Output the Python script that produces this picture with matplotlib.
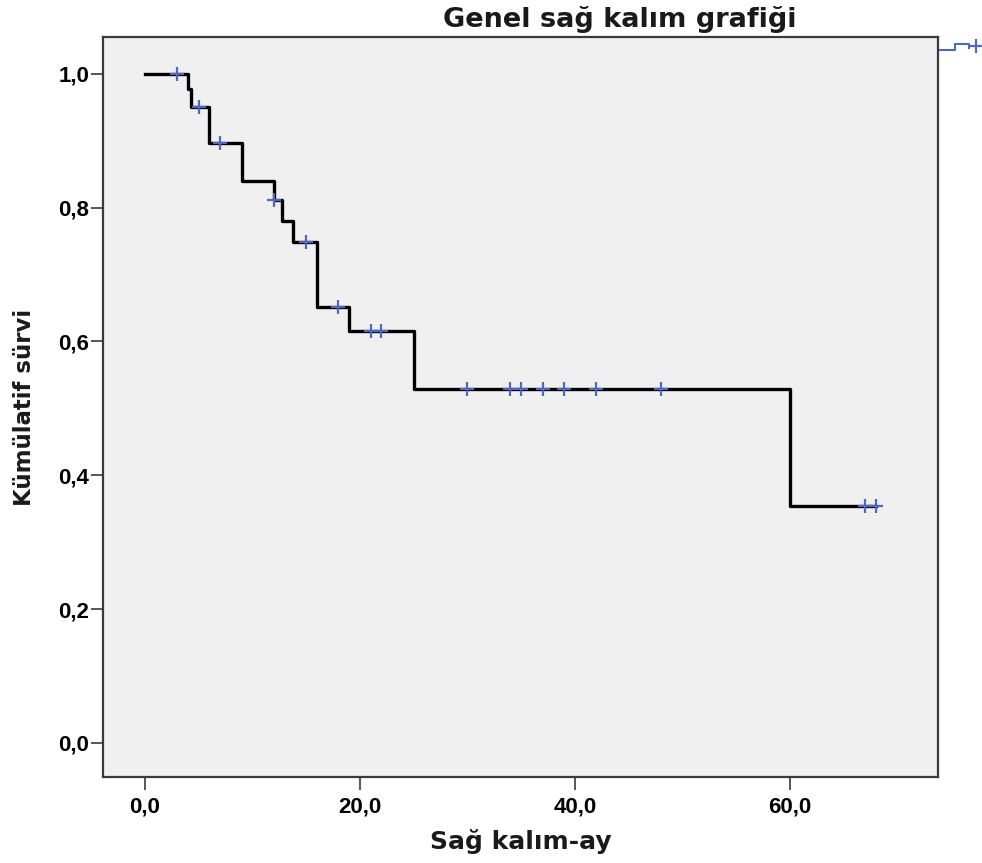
import matplotlib
matplotlib.use('Agg')
import matplotlib.pyplot as plt
from matplotlib.lines import Line2D

# Kaplan-Meier verisi
step_times = [0, 4.0, 4.3, 6.0, 9.0, 12.0, 12.8, 13.8, 16.0, 19.0, 25.0, 60.0]
step_surv = [1.0, 0.978, 0.951, 0.896, 0.840, 0.812, 0.780, 0.748, 0.652, 0.616, 0.529, 0.354]
end_time = 68.0

cens_times = [3, 5, 7, 12, 15, 18, 21, 22, 30, 34, 35, 37, 39, 42, 48, 67, 68]
cens_surv = [1.0, 0.951, 0.896, 0.812, 0.748, 0.652, 0.616, 0.616,
             0.529, 0.529, 0.529, 0.529, 0.529, 0.529, 0.529, 0.354, 0.354]

x_ticks = [0, 20, 40, 60]
x_ticklabels = ['0,0', '20,0', '40,0', '60,0']
y_ticks = [0.0, 0.2, 0.4, 0.6, 0.8, 1.0]
y_ticklabels = ['0,0', '0,2', '0,4', '0,6', '0,8', '1,0']

plt.rcParams['font.family'] = ['Liberation Sans', 'DejaVu Sans']

fig = plt.figure(figsize=(9.82, 8.63), dpi=100)
ax = fig.add_axes([0.1049, 0.0997, 0.8503, 0.8574])
ax.set_facecolor('#f0f0f0')

# Egri
xs = step_times + [end_time]
ys = step_surv + [step_surv[-1]]
ax.step(xs, ys, where='post', color='black', lw=2.4, zorder=2)
ax.plot(cens_times, cens_surv, ls='none', marker='+', ms=10, mew=1.6,
        color='#4f67bd', zorder=3)

ax.set_xlim(-3.9, 73.8)
ax.set_ylim(-0.051, 1.055)
ax.set_xticks(x_ticks)
ax.set_xticklabels(x_ticklabels)
ax.set_yticks(y_ticks)
ax.set_yticklabels(y_ticklabels)

for s in ax.spines.values():
    s.set_color('#3a3a3a')
    s.set_linewidth(1.6)
ax.tick_params(axis='both', length=9, width=1.2, color='#3a3a3a', labelsize=16)
ax.tick_params(axis='x', pad=5)
ax.tick_params(axis='y', pad=1)
for lab in ax.get_xticklabels() + ax.get_yticklabels():
    lab.set_fontweight('bold')

ax.set_xlabel('Sağ kalım-ay', fontsize=18, fontweight='bold', color='#1a1a1a',
              family=['DejaVu Sans'], labelpad=8)
ax.set_ylabel('Kümülatif sürvi', fontsize=16.5, fontweight='bold', color='#1a1a1a',
              family=['DejaVu Sans'], labelpad=16)

fig.text(620 / 982, 1 - 27 / 863, 'Genel sağ kalım grafiği', ha='center', va='baseline',
         fontsize=19.5, fontweight='bold', color='#1a1a1a', family=['DejaVu Sans'])

# kesilmis lejant parcasi (sag ust)
W, H = 982.0, 863.0
lx = [940, 955, 955, 969, 969]
ly = [50, 50, 44, 44, 48]
fig.add_artist(Line2D([x / W for x in lx], [1 - y / H for y in ly], color='#4f67bd', lw=1.5))
fig.add_artist(Line2D([976 / W], [1 - 46 / H], marker='+', ms=10, mew=1.6, color='#4f67bd'))

fig.savefig('out.png', dpi=100)
